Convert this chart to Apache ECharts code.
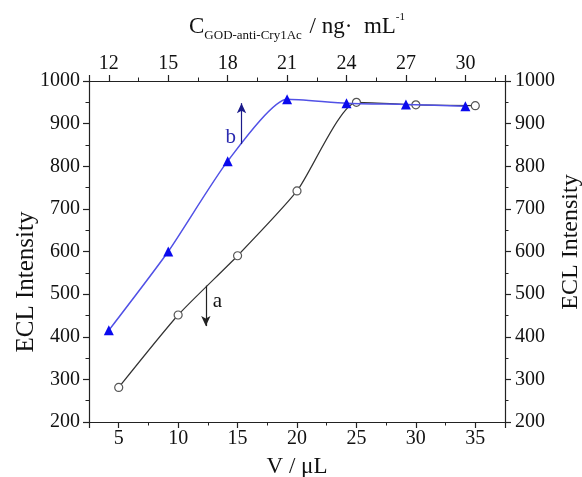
<!DOCTYPE html>
<html>
<head>
<meta charset="utf-8">
<script src="https://cdn.jsdelivr.net/npm/echarts@6/dist/echarts.min.js"></script>
<style>
html,body{margin:0;padding:0;background:#fff;}
#c{width:582px;height:477px;}
</style>
</head>
<body>
<div id="c"></div>
<script>
// Series a (black, vs bottom axis V / uL)
const volumes = [5, 10, 15, 20, 25, 30, 35];
const intensityA = [281, 451, 590, 742, 950, 944, 942];
// Series b (blue, vs top axis C / ng mL-1)
const concentrations = [12, 15, 18, 21, 24, 27, 30];
const intensityB = [415, 600, 812, 957, 948, 945, 941];
// Annotation positions (data coordinates)
const arrowA = [[12.33, 520], [12.33, 425]];
const labelA = [13.3, 482];
const arrowB = [[18.7, 852], [18.7, 948]];
const labelB = [18.15, 868];

const FONT = '"Liberation Serif", "Times New Roman", serif';

const chart = echarts.init(document.getElementById('c'), null, {renderer: 'canvas'});

const axisCommon = {
  type: 'value',
  axisLine: {show: true, lineStyle: {color: '#222', width: 1.2}},
  axisTick: {show: true, inside: false, length: 6, lineStyle: {color: '#222', width: 1.2}},
  minorTick: {show: true, splitNumber: 2, length: 3.5, lineStyle: {color: '#222', width: 1}},
  splitLine: {show: false},
  minorSplitLine: {show: false},
  axisLabel: {fontFamily: FONT, fontSize: 20, color: '#111', margin: 9,
    showMinLabel: false, showMaxLabel: false, formatter: v => String(v)}
};

const option = {
  backgroundColor: '#fff',
  animation: false,
  grid: {left: 89, right: 77, top: 81, bottom: 55, containLabel: false, outerBoundsMode: 'none'},
  xAxis: [
    Object.assign({}, axisCommon, {
      position: 'bottom', min: 2.5, max: 37.5, splitNumber: 7,
      axisLabel: Object.assign({}, axisCommon.axisLabel, {margin: 7}),
      name: 'V / μL', nameLocation: 'middle', nameGap: 33, nameMoveOverlap: false,
      nameTextStyle: {fontFamily: FONT, fontSize: 23, color: '#111'}
    }),
    Object.assign({}, axisCommon, {
      position: 'top', min: 11, max: 32, splitNumber: 7,
      axisLabel: Object.assign({}, axisCommon.axisLabel, {margin: 7}),
      name: '{c|C}{s|GOD-anti-Cry1Ac}{n| / ng·  mL}{p|-1}',
      nameLocation: 'middle', nameGap: 39, nameMoveOverlap: false,
      nameTextStyle: {
        fontFamily: FONT, color: '#111',
        rich: {
          c: {fontFamily: FONT, fontSize: 23, color: '#111', lineHeight: 30, verticalAlign: 'middle'},
          s: {fontFamily: FONT, fontSize: 13, color: '#111', lineHeight: 30, verticalAlign: 'bottom', padding: [0, 2, 0, 0]},
          n: {fontFamily: FONT, fontSize: 23, color: '#111', lineHeight: 30, verticalAlign: 'middle'},
          p: {fontFamily: FONT, fontSize: 11, color: '#111', lineHeight: 30, verticalAlign: 'top'}
        }
      }
    })
  ],
  yAxis: [
    Object.assign({}, axisCommon, {
      position: 'left', min: 200, max: 1000, interval: 100,
      axisLabel: Object.assign({}, axisCommon.axisLabel, {showMinLabel: true, showMaxLabel: true}),
      name: 'ECL Intensity', nameLocation: 'middle', nameGap: 50, nameRotate: 90, nameMoveOverlap: false,
      nameTextStyle: {fontFamily: FONT, fontSize: 25, color: '#111', padding: [0, 61, 0, 0]}
    }),
    Object.assign({}, axisCommon, {
      position: 'right', min: 200, max: 1000, interval: 100,
      axisLabel: Object.assign({}, axisCommon.axisLabel, {showMinLabel: true, showMaxLabel: true, margin: 10}),
      name: 'ECL Intensity', nameLocation: 'middle', nameGap: 54, nameRotate: 90, nameMoveOverlap: false,
      nameTextStyle: {fontFamily: FONT, fontSize: 24, color: '#111', padding: [0, 0, 0, 19]}
    })
  ],
  series: [
    {
      name: 'a', type: 'line', xAxisIndex: 0, yAxisIndex: 0,
      data: volumes.map((v, i) => [v, intensityA[i]]),
      smooth: 0.2,
      symbol: 'circle', symbolSize: 8,
      itemStyle: {color: '#fff', borderColor: '#555', borderWidth: 1.2},
      lineStyle: {color: '#333', width: 1.2},
      z: 3,
      markLine: {
        silent: true, symbol: ['none', 'arrow'], symbolSize: [7, 10],
        lineStyle: {color: '#222', width: 1.2, type: 'solid'},
        label: {show: false},
        data: [[{coord: arrowA[0]}, {coord: arrowA[1]}]]
      },
      markPoint: {
        silent: true, symbol: 'circle', symbolSize: 0,
        label: {show: true, formatter: 'a', fontFamily: FONT, fontSize: 21, color: '#111'},
        data: [{coord: labelA}]
      }
    },
    {
      name: 'b', type: 'line', xAxisIndex: 1, yAxisIndex: 0,
      data: concentrations.map((v, i) => [v, intensityB[i]]),
      smooth: 0.2,
      symbol: 'triangle', symbolSize: 10,
      itemStyle: {color: '#0a0aee'},
      lineStyle: {color: '#5151e6', width: 1.5},
      z: 4,
      markLine: {
        silent: true, symbol: ['none', 'arrow'], symbolSize: [7, 10],
        lineStyle: {color: '#1b1b8a', width: 1.2, type: 'solid'},
        label: {show: false},
        data: [[{coord: arrowB[0]}, {coord: arrowB[1]}]]
      },
      markPoint: {
        silent: true, symbol: 'circle', symbolSize: 0,
        label: {show: true, formatter: 'b', fontFamily: FONT, fontSize: 21, color: '#2b2bb0'},
        data: [{coord: labelB}]
      }
    }
  ]
};

chart.setOption(option);
</script>
</body>
</html>
